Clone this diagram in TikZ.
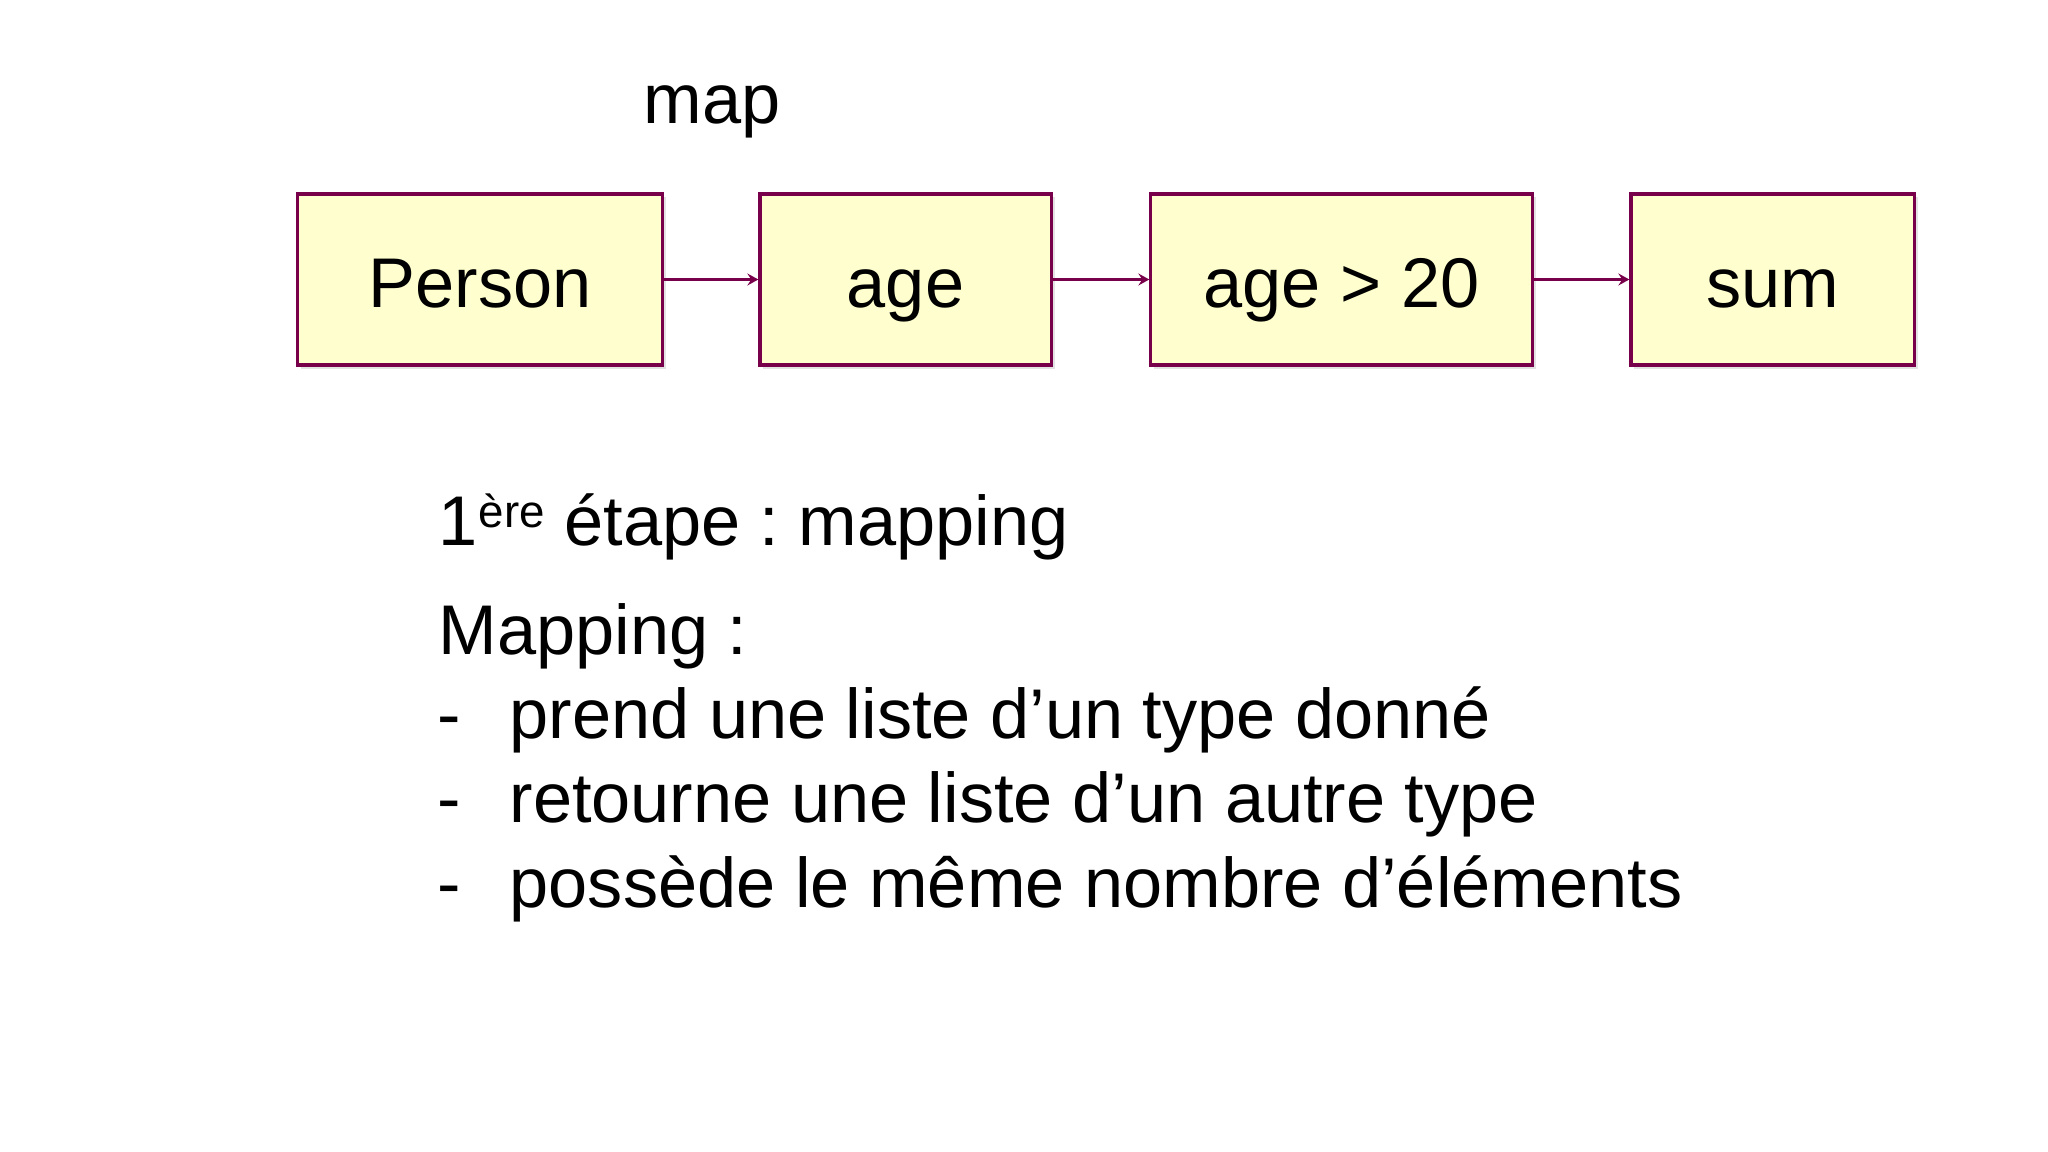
\documentclass[tikz,border=0pt]{standalone}
\usepackage{fontspec}
\setmainfont{Liberation Sans}
\usetikzlibrary{arrows.meta,shadows}
\frenchspacing
\definecolor{boxfill}{HTML}{FEFECE}
\definecolor{boxline}{RGB}{120,0,75}
\tikzset{
  stagebox/.style={draw=boxline, fill=boxfill, line width=0.9pt,
    minimum height=1.71cm, inner sep=0pt, text height=0.56cm, text depth=0cm,
    font=\fontsize{20pt}{24pt}\selectfont,
    drop shadow={opacity=0.22, shadow xshift=0.035cm, shadow yshift=-0.035cm}},
  flow/.style={draw=boxline, line width=0.65pt,
    -{Stealth[length=0.11cm, width=0.12cm, inset=0.04cm]}},
  txt/.style={anchor=base west, inner sep=0pt, font=\fontsize{20pt}{24pt}\selectfont}
}
\begin{document}
\begin{tikzpicture}[x=0.01cm, y=-0.01cm]
\useasboundingbox[fill=white] (0,0) rectangle (2048,1152);
\node[txt] (map) at (643,124) {map};
\node[stagebox, minimum width=3.64cm] (person) at (480,279.5) {Person};
\node[stagebox, minimum width=2.91cm] (age) at (905.5,279.5) {age};
\node[stagebox, minimum width=3.81cm] (filter) at (1341.5,279.5) {age > 20};
\node[stagebox, minimum width=2.83cm] (sum) at (1772.5,279.5) {sum};
\draw[flow] (person.east) -- (age.west);
\draw[flow] (age.east) -- (filter.west);
\draw[flow] (filter.east) -- (sum.west);
\node[txt] (step) at (438,546) {1\hspace{0.01cm}\raisebox{0.18cm}{\fontsize{13pt}{15pt}\selectfont ère} étape : mapping};
\node[txt] (title) at (438,654) {Mapping :};
\node[txt] (d1) at (437,738) {-};
\node[txt] (l1) at (509,738) {prend une liste d’un type donné};
\node[txt] (d2) at (437,822) {-};
\node[txt] (l2) at (509,822) {retourne une liste d’un autre type};
\node[txt] (d3) at (437,907) {-};
\node[txt] (l3) at (509,907) {possède le même nombre d’éléments};
\end{tikzpicture}
\end{document}
